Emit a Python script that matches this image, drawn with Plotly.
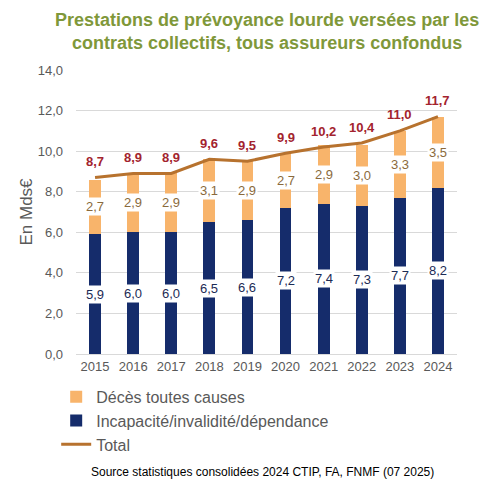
import plotly.graph_objects as go

years = ["2015", "2016", "2017", "2018", "2019", "2020", "2021", "2022", "2023", "2024"]
incapacite = [5.9, 6.0, 6.0, 6.5, 6.6, 7.2, 7.4, 7.3, 7.7, 8.2]
deces = [2.7, 2.9, 2.9, 3.1, 2.9, 2.7, 2.9, 3.0, 3.3, 3.5]
total = [8.7, 8.9, 8.9, 9.6, 9.5, 9.9, 10.2, 10.4, 11.0, 11.7]

NAVY = "#152C6B"
ORANGE = "#F8B46B"
LINE = "#B7722E"
RED = "#A3232E"
GREY = "#595959"
FONT = "Liberation Sans, Arial, sans-serif"

def fmt(v):
    return f"{v:.1f}".replace(".", ",")

fig = go.Figure()
fig.add_trace(go.Bar(x=years, y=incapacite, name="Incapacité/invalidité/dépendance",
                     marker=dict(color=NAVY, line=dict(width=0)), width=0.31, legendrank=2))
fig.add_trace(go.Bar(x=years, y=deces, name="Décès toutes causes",
                     marker=dict(color=ORANGE, line=dict(width=0)), width=0.31, legendrank=1))
fig.add_trace(go.Scatter(x=years, y=total, name="Total", mode="lines",
                         line=dict(color=LINE, width=3), legendrank=3))

annotations = []
for i, yr in enumerate(years):
    annotations.append(dict(x=i, y=incapacite[i] / 2, text=fmt(incapacite[i]), showarrow=False,
                            bgcolor="white", font=dict(family=FONT, size=13, color="#1C2B55"),
                            borderpad=1))
    annotations.append(dict(x=i, y=incapacite[i] + deces[i] / 2, text=fmt(deces[i]), showarrow=False,
                            bgcolor="white", font=dict(family=FONT, size=13, color="#8A6A3C"),
                            borderpad=1))
    annotations.append(dict(x=i, y=total[i], text="<b>" + fmt(total[i]) + "</b>", showarrow=False,
                            yshift=16, font=dict(family=FONT, size=13, color=RED)))

annotations.append(dict(x=0.49, y=-0.415, xref="paper", yref="paper", xanchor="center", yanchor="middle",
                        text="Source statistiques consolidées 2024 CTIP, FA, FNMF (07 2025)", showarrow=False,
                        font=dict(family=FONT, size=12, color="black")))
annotations.append(dict(x=0.5, y=1.134, xref="paper", yref="paper", xanchor="center", yanchor="middle",
                        text="<b>Prestations de prévoyance lourde versées par les<br>contrats collectifs, tous assureurs confondus</b>",
                        showarrow=False, font=dict(family=FONT, size=18, color="#7F983A")))

fig.update_layout(
    width=495, height=499,
    margin=dict(l=68, r=46, t=62, b=153),
    paper_bgcolor="white", plot_bgcolor="white",
    barmode="stack",
    separators=", ",
    xaxis=dict(type="category", range=[-0.5, 9.5], showgrid=False, showline=True, linecolor="#D9D9D9",
               ticks="", tickfont=dict(family=FONT, size=13, color=GREY)),
    yaxis=dict(range=[0, 14], dtick=2, tickformat=".1f", showgrid=True, gridcolor="#D9D9D9",
               zeroline=False, ticks="", ticklabelstandoff=12, tickfont=dict(family=FONT, size=13, color=GREY),
               title=dict(text="En Mds€", font=dict(family=FONT, size=17, color=GREY), standoff=0)),
    legend=dict(orientation="v", x=-0.052, xanchor="left", y=-0.091, yanchor="top",
                traceorder="normal",
                font=dict(family=FONT, size=16, color=GREY),
                itemwidth=30, tracegroupgap=0),
    annotations=annotations,
    showlegend=True,
)

fig.write_html("out.html")
